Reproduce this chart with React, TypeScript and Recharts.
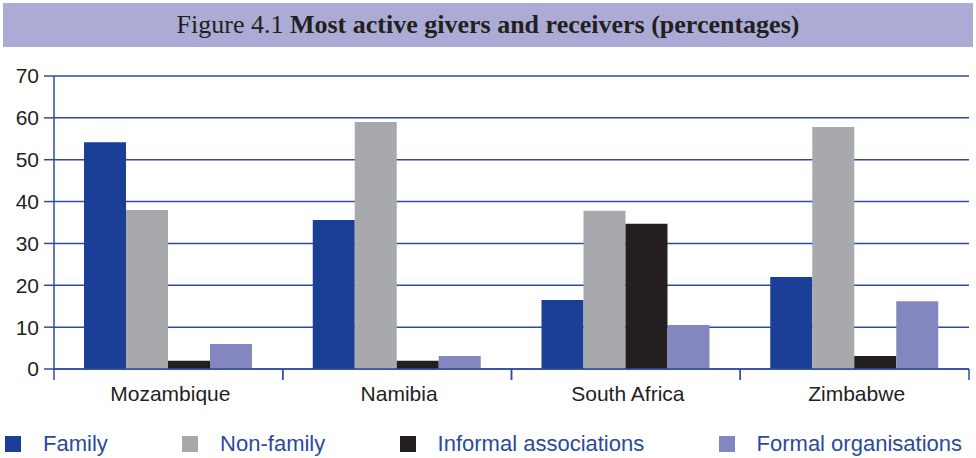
import { BarChart, Bar, XAxis, YAxis, CartesianGrid } from "recharts";

const countries = ["Mozambique", "Namibia", "South Africa", "Zimbabwe"];
const family = [54.2, 35.6, 16.5, 22];
const nonFamily = [38, 59, 37.8, 57.8];
const informal = [2, 2, 34.7, 3.1];
const formal = [6, 3.1, 10.5, 16.2];
const yTicks = [0, 10, 20, 30, 40, 50, 60, 70];

const seriesInfo = [
  { key: "family", name: "Family", color: "#1B3F96" },
  { key: "nonFamily", name: "Non-family", color: "#A8A9AD" },
  { key: "informal", name: "Informal associations", color: "#231F20" },
  { key: "formal", name: "Formal organisations", color: "#8487BF" },
];

const data = countries.map((c, i) => ({
  country: c,
  family: family[i],
  nonFamily: nonFamily[i],
  informal: informal[i],
  formal: formal[i],
}));

const W = 976;
const H = 360;
const M = { top: 26, right: 7, left: 0, bottom: 11 };
const Y_W = 54;
const halfBand = (W - M.left - M.right - Y_W) / countries.length / 2;
const axisBlue = "#2E4C9F";
const font = "'Liberation Sans', Arial, Helvetica, sans-serif";

const CountryTick = (props: any) => {
  const { x, y, payload } = props;
  return (
    <g>
      <line x1={x - halfBand} y1={y - 8} x2={x - halfBand} y2={y + 3} stroke={axisBlue} strokeWidth={1.5} />
      <line x1={x + halfBand} y1={y - 8} x2={x + halfBand} y2={y + 3} stroke={axisBlue} strokeWidth={1.5} />
      <text x={x + 2} y={y + 24} textAnchor="middle" fill="#231F20" fontSize={21} fontFamily={font}>
        {payload.value}
      </text>
    </g>
  );
};

export default function App() {
  return (
    <div style={{ position: "absolute", top: 0, left: 0, width: W, height: 458, background: "#fff" }}>
      <div
        style={{
          position: "absolute",
          top: 3,
          left: 3,
          width: 970,
          height: 44,
          background: "#ABABD5",
          display: "flex",
          alignItems: "center",
          justifyContent: "center",
          fontFamily: "'Liberation Serif', 'Times New Roman', serif",
          fontSize: 26,
          color: "#231F20",
        }}
      >
        <span>
          Figure 4.1 <b>Most active givers and receivers (percentages)</b>
        </span>
      </div>
      <div style={{ position: "absolute", top: 50, left: 0 }}>
        <BarChart width={W} height={H} data={data} margin={M} barGap={0} barSize={42}>
          <CartesianGrid vertical={false} stroke={axisBlue} strokeWidth={1.5} />
          <XAxis
            dataKey="country"
            axisLine={{ stroke: axisBlue, strokeWidth: 1.5 }}
            tickLine={false}
            tick={<CountryTick />}
            height={30}
            interval={0}
          />
          <YAxis
            width={Y_W}
            domain={[0, 70]}
            ticks={yTicks}
            axisLine={{ stroke: axisBlue, strokeWidth: 1.5 }}
            tickLine={{ stroke: axisBlue, strokeWidth: 1.5 }}
            tickSize={10}
            tickMargin={5}
            tick={{ fill: "#231F20", fontSize: 21, fontFamily: font }}
          />
          <YAxis
            yAxisId="right"
            orientation="right"
            width={0}
            domain={[0, 70]}
            axisLine={{ stroke: axisBlue, strokeWidth: 1.5 }}
            tickLine={false}
            tick={false}
          />
          {seriesInfo.map((s) => (
            <Bar key={s.key} dataKey={s.key} name={s.name} fill={s.color} isAnimationActive={false} />
          ))}
        </BarChart>
      </div>
      <div
        style={{
          position: "absolute",
          top: 431,
          left: 5,
          width: 957,
          display: "flex",
          justifyContent: "space-between",
          fontFamily: font,
          fontSize: 22,
          color: "#2B4A9C",
        }}
      >
        {seriesInfo.map((s) => (
          <div key={s.key} style={{ display: "flex", alignItems: "center" }}>
            <div style={{ width: 16, height: 16, background: s.color, marginRight: 22 }} />
            <span>{s.name}</span>
          </div>
        ))}
      </div>
    </div>
  );
}
